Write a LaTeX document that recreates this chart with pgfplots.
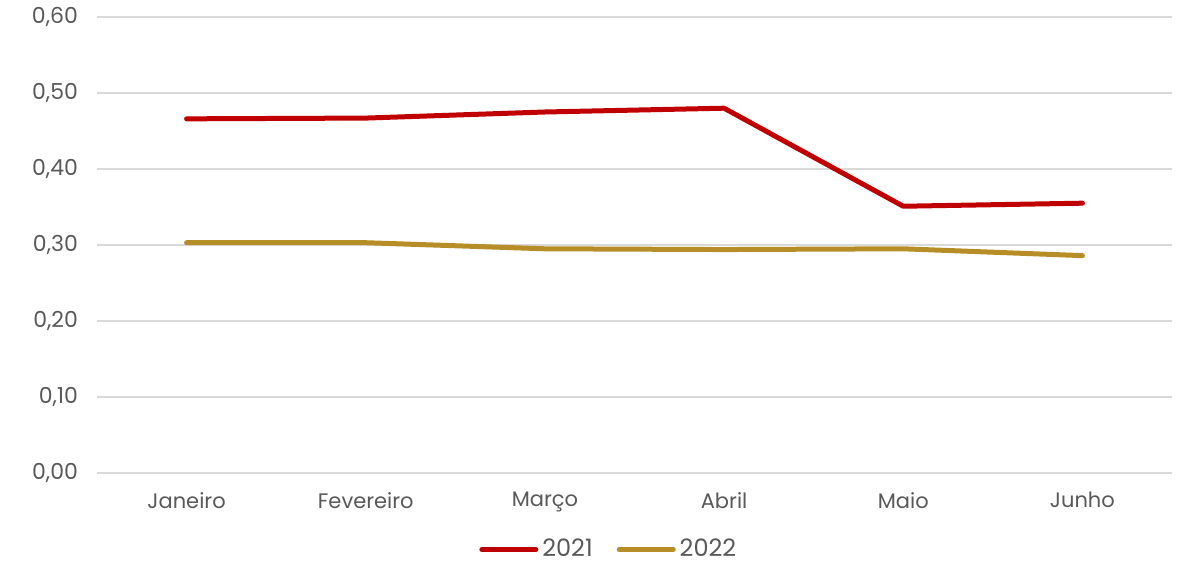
\documentclass[border=0pt]{standalone}
\usepackage{fontspec}
\setmainfont{Poppins}
\usepackage{pgfplots}
\pgfplotsset{compat=1.18}

\definecolor{red21}{HTML}{C00000}
\definecolor{gold22}{HTML}{B68D26}
\definecolor{txtgray}{HTML}{595959}
\definecolor{gridgray}{HTML}{D9D9D9}

\begin{document}
\begin{tikzpicture}
\begin{axis}[
    scale only axis,
    width=537.5pt, height=228pt,
    xmin=-0.5, xmax=5.5,
    ymin=0, ymax=0.6,
    xtick=data,
    xticklabels={Janeiro,Fevereiro,Março,Abril,Maio,Junho},
    ytick={0,0.1,...,0.6},
    ymajorgrids,
    grid style={gridgray, line width=0.8pt},
    axis line style={draw=none},
    major tick length=0pt,
    tick label style={text=txtgray},
    xticklabel style={font=\fontsize{10.5}{12}\selectfont, yshift=-6pt},
    yticklabel style={font=\fontsize{11}{13}\selectfont, xshift=-6pt},
    /pgf/number format/.cd, use comma, fixed, fixed zerofill, precision=2, assume math mode=true,
    /pgfplots/.cd,
    legend columns=2,
    legend style={at={(0.477,-0.168)}, anchor=center, draw=none,
        inner ysep=1pt,
        font=\fontsize{12}{13}\selectfont, text=txtgray,
        /tikz/every even column/.append style={column sep=10pt}},
    legend image code/.code={\draw[#1, line cap=round] (0pt,0pt) -- (27pt,0pt);},
]
\addplot[red21, line width=2.5pt, line cap=round, line join=round] coordinates {
    (0,0.466) (1,0.467) (2,0.475) (3,0.480) (4,0.351) (5,0.355)
};
\addlegendentry{2021}
\addplot[gold22, line width=2.5pt, line cap=round, line join=round] coordinates {
    (0,0.303) (1,0.303) (2,0.295) (3,0.294) (4,0.295) (5,0.286)
};
\addlegendentry{2022}
\end{axis}
\pgfresetboundingbox
\path[use as bounding box] (-48.5pt,-46pt) rectangle (543pt,236.5pt);
\end{tikzpicture}
\end{document}
